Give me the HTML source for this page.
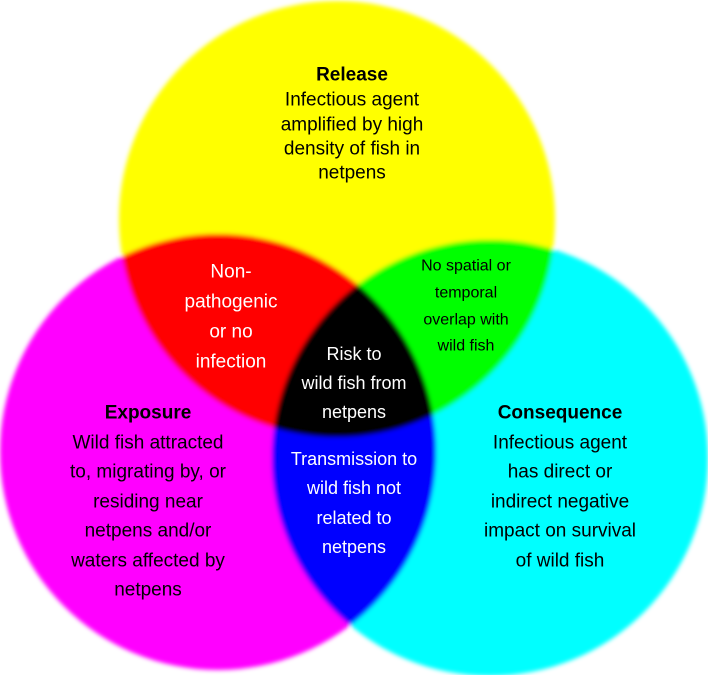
<!DOCTYPE html>
<html><head><meta charset="utf-8"><style>
html,body{margin:0;padding:0;background:#fff;}
svg{display:block;}
text{font-family:"Liberation Sans",sans-serif;text-anchor:middle;dominant-baseline:central;}
</style></head><body>
<svg width="708" height="675" viewBox="0 0 708 675">
<defs><filter id="b" x="-10%" y="-10%" width="120%" height="120%"><feGaussianBlur stdDeviation="2"/></filter></defs>
<g filter="url(#b)">
<circle cx="337" cy="219" r="218" fill="#ffff00" style="mix-blend-mode:multiply"/>
<circle cx="218" cy="452" r="218" fill="#ff00ff" style="mix-blend-mode:multiply"/>
<circle cx="490" cy="458" r="218" fill="#00ffff" style="mix-blend-mode:multiply"/>
</g>
<g font-size="19" fill="#000">
<text x="352" y="75" font-weight="bold">Release</text>
<text x="352" y="100">Infectious agent</text>
<text x="352" y="125">amplified by high</text>
<text x="352" y="149">density of fish in</text>
<text x="352" y="173">netpens</text>
</g>
<g font-size="19" fill="#fff">
<text x="231" y="272">Non-</text>
<text x="231" y="302">pathogenic</text>
<text x="231" y="332">or no</text>
<text x="231" y="362">infection</text>
</g>
<g font-size="16" fill="#000">
<text x="466" y="266">No spatial or</text>
<text x="466" y="293">temporal</text>
<text x="466" y="320">overlap with</text>
<text x="466" y="346">wild fish</text>
</g>
<g font-size="18" fill="#fff">
<text x="354" y="354">Risk to</text>
<text x="354" y="383">wild fish from</text>
<text x="354" y="412">netpens</text>
</g>
<g font-size="19" fill="#000">
<text x="148" y="413" font-weight="bold">Exposure</text>
<text x="148" y="443">Wild fish attracted</text>
<text x="148" y="472">to, migrating by, or</text>
<text x="148" y="502">residing near</text>
<text x="148" y="531">netpens and/or</text>
<text x="148" y="561">waters affected by</text>
<text x="148" y="590">netpens</text>
</g>
<g font-size="19" fill="#000">
<text x="560" y="413" font-weight="bold">Consequence</text>
<text x="560" y="443">Infectious agent</text>
<text x="560" y="472">has direct or</text>
<text x="560" y="502">indirect negative</text>
<text x="560" y="531">impact on survival</text>
<text x="560" y="561">of wild fish</text>
</g>
<g font-size="18" fill="#fff">
<text x="354" y="459">Transmission to</text>
<text x="354" y="488">wild fish not</text>
<text x="354" y="518">related to</text>
<text x="354" y="547">netpens</text>
</g>
</svg>
</body></html>
